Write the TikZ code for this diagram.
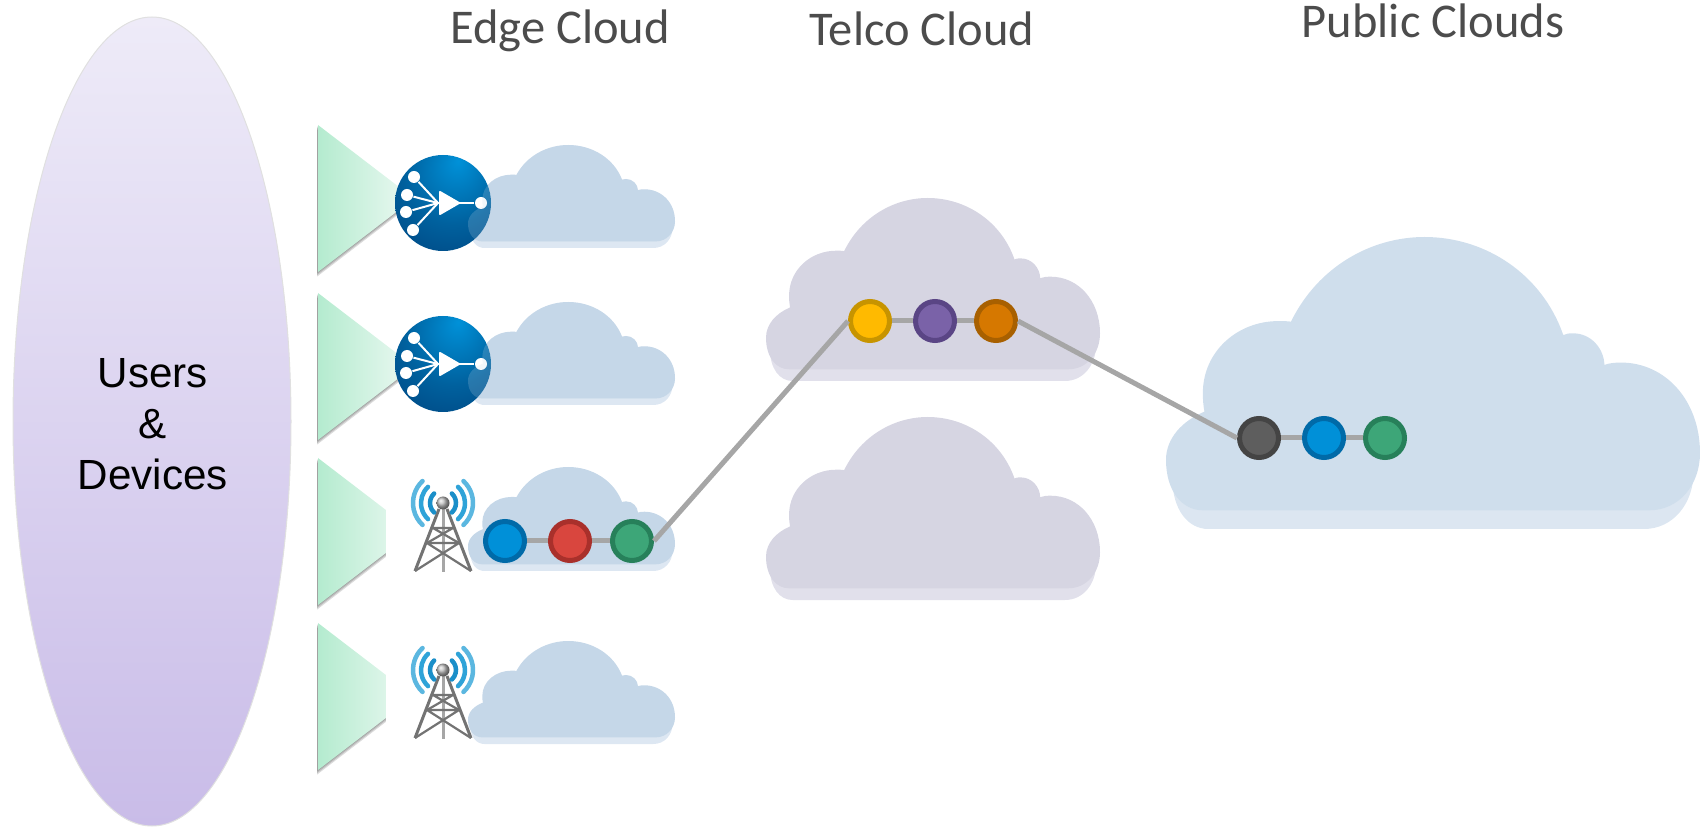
\documentclass[tikz,border=0pt]{standalone}
\usepackage{fontspec}
\setmainfont{Liberation Sans}
\newfontfamily\titlefont{Carlito}
\usetikzlibrary{positioning,calc}
\definecolor{edgefill}{HTML}{C5D7E8}
\definecolor{edgeshade}{HTML}{DDE7F2}
\definecolor{telcofill}{HTML}{D6D5E2}
\definecolor{telcoshade}{HTML}{E1E0EB}
\definecolor{publicfill}{HTML}{CFDEEC}
\definecolor{publicshade}{HTML}{DCE6F1}
\definecolor{linkgray}{HTML}{A6A6A6}
\definecolor{ovaltop}{HTML}{EEEBF8}
\definecolor{ovalbottom}{HTML}{C9BCE8}
\definecolor{wedgeleft}{HTML}{B4EBCF}
\definecolor{wedgeright}{HTML}{EDF9F3}
\definecolor{bluefill}{HTML}{0090D8}
\definecolor{blueline}{HTML}{006AA8}
\definecolor{redfill}{HTML}{D9463E}
\definecolor{redline}{HTML}{A9302B}
\definecolor{greenfill}{HTML}{3DA678}
\definecolor{greenline}{HTML}{27805A}
\definecolor{yellowfill}{HTML}{FFBA00}
\definecolor{yellowline}{HTML}{C79400}
\definecolor{purplefill}{HTML}{7A62A8}
\definecolor{purpleline}{HTML}{5A4585}
\definecolor{orangefill}{HTML}{D67800}
\definecolor{orangeline}{HTML}{A86000}
\definecolor{darkfill}{HTML}{5E5E5E}
\definecolor{darkline}{HTML}{444444}
\definecolor{waveinner}{HTML}{1B8FC9}
\definecolor{wavemiddle}{HTML}{2FA3D8}
\definecolor{waveouter}{HTML}{5BB7E0}
\pgfdeclareradialshading{hubball}{\pgfpoint{8bp}{22bp}}{
    rgb(0bp)=(0,0.57,0.85);
    rgb(25bp)=(0,0.38,0.62);
    rgb(50bp)=(0,0.24,0.47);
    rgb(70bp)=(0,0.18,0.40)
}
\tikzset{
    vnf/.style = {
        draw,
        shape=circle,
        inner sep=0pt,
        minimum size=0.39cm,
        line width=0.05cm
    },
    title/.style = {
        font=\titlefont\fontsize{13.8}{16}\selectfont,
        text=black!70
    },
    hub/.style = {
        shape=circle,
        shading=hubball,
        inner sep=0pt,
        minimum size=0.96cm
    },
    hubdot/.style = {
        fill=white,
        shape=circle,
        inner sep=0pt,
        minimum size=0.12cm
    },
    hubline/.style = {
        draw=white,
        line width=0.02cm
    },
    link/.style = {
        draw=linkgray,
        line width=0.05cm
    },
    wave/.style = {
        line cap=round,
        line width=0.045cm
    },
    mast/.style = {
        draw=black!55,
        line width=0.03cm
    },
}
% x, y, width, height, colour, opacity
\newcommand{\cloudpart}[6]{
    \fill[#5, fill opacity=#6, shift={(#1,#2)}, xscale=#3, yscale=-#4]
        (.234,.29) .. controls (.285,.10) and (.385,0) .. (.484,0)
        .. controls (.60,0) and (.705,.13) .. (.744,.336)
        .. controls (.75,.33) and (.755,.33) .. (.763,.33)
        .. controls (.795,.33) and (.82,.38) .. (.821,.438)
        .. controls (.83,.432) and (.84,.43) .. (.852,.43)
        .. controls (.935,.43) and (1,.56) .. (1,.74)
        .. controls (1,.85) and (.96,.936) .. (.905,.936)
        -- (.069,.936)
        .. controls (.03,.936) and (0,.87) .. (0,.763)
        .. controls (0,.69) and (.03,.63) .. (.072,.598)
        .. controls (.07,.58) and (.069,.56) .. (.069,.535)
        .. controls (.069,.39) and (.135,.288) .. (.21,.288)
        .. controls (.22,.288) and (.227,.288) .. (.234,.29) -- cycle;
}
% x, y, width, height, colour, lower colour
\newcommand{\fullcloud}[6]{
    \begin{scope}[yshift=-0.064*#4 cm]
        \cloudpart{#1+0.012*#3}{#2}{0.976*#3}{#4}{#6}{1}
    \end{scope}
    \cloudpart{#1}{#2}{#3}{#4}{#5}{1}
}
% top y of the wedge
\newcommand{\wedgeshape}[1]{
    \foreach \drop in {0.015,0.03,0.045} {
        \fill[black, fill opacity=0.14, yshift=-\drop cm, xshift=-0.008cm] (3.18,-#1) -- (4.14,-#1-0.735) -- (3.18,-#1-1.47) -- cycle;
    }
    \shade[left color=wedgeleft, right color=wedgeright, shading=axis] (3.18,-#1) -- (4.14,-#1-0.735) -- (3.18,-#1-1.47) -- cycle;
}
% x, y, name
\newcommand{\hubicon}[3]{
    \node[hub] (#3) at (#1,#2) {};
    \node[hubdot] (#3a) at ($(#3)+(-0.29,0.26)$) {};
    \node[hubdot] (#3b) at ($(#3)+(-0.36,0.08)$) {};
    \node[hubdot] (#3c) at ($(#3)+(-0.37,-0.09)$) {};
    \node[hubdot] (#3d) at ($(#3)+(-0.30,-0.27)$) {};
    \node[hubdot] (#3e) at ($(#3)+(0.38,0)$) {};
    \coordinate (#3t) at ($(#3)+(-0.05,0)$);
    \path[hubline] (#3a) -- (#3t);
    \path[hubline] (#3b) -- (#3t);
    \path[hubline] (#3c) -- (#3t);
    \path[hubline] (#3d) -- (#3t);
    \path[hubline] (#3t) -- (#3e);
    \filldraw[white, line width=0.02cm, line join=round] ($(#3)+(-0.03,0.11)$) -- ($(#3)+(0.16,0)$) -- ($(#3)+(-0.03,-0.11)$) -- cycle;
}
% x, y, name
\newcommand{\towericon}[3]{
    \begin{scope}[shift={(#1,#2)}]
        \coordinate (#3) at (0,0);
        \draw[mast] (-0.04,-0.06) -- (-0.28,-0.68) (0.04,-0.06) -- (0.28,-0.68);
        \draw[mast, draw=black!35] (0,-0.06) -- (0,-0.69);
        \draw[mast, line width=0.022cm] (-0.10,-0.25) -- (0.10,-0.25) (-0.16,-0.40) -- (0.10,-0.25) (0.16,-0.40) -- (-0.10,-0.25);
        \draw[mast, line width=0.022cm] (-0.16,-0.40) -- (0.16,-0.40) (-0.28,-0.68) -- (0.16,-0.40) (0.28,-0.68) -- (-0.16,-0.40);
        \foreach \side in {1,-1} {
            \begin{scope}[xscale=\side]
                \draw[wave, draw=waveinner] (133:0.13) arc (133:227:0.13);
                \draw[wave, draw=wavemiddle] (133:0.22) arc (133:227:0.22);
                \draw[wave, draw=waveouter] (133:0.30) arc (133:227:0.30);
            \end{scope}
        }
        \shade[ball color=black!25] (0,0) circle (0.065);
    \end{scope}
}

\begin{document}
\begin{tikzpicture}
    \useasboundingbox (0,0) rectangle (17,-8.29);
    \shade[draw=black!12, line width=0.01cm, top color=ovaltop, bottom color=ovalbottom, shading=axis] (1.52,-4.215) ellipse (1.39 and 4.045);

    \node[title] (edge) at (5.6,-0.31) {Edge Cloud};
    \node[title] (telco) at (9.22,-0.29) {Telco Cloud};
    \node[title] (public) at (14.33,-0.21) {Public Clouds};
    \node[align=center, font=\fontsize{12}{14.5}\selectfont] (users) at (1.53,-4.24) {Users\\\&\\Devices};

    \wedgeshape{1.25}
    \wedgeshape{2.93}
    \wedgeshape{4.58}
    \wedgeshape{6.23}
    % white box behind the towers
    \fill[white] (3.86,-4.5) rectangle (4.68,-5.9);
    \fill[white] (3.86,-6.2) rectangle (4.68,-7.6);

    \fullcloud{4.68}{-1.45}{2.07}{1.03}{edgefill}{edgeshade}
    \fullcloud{4.68}{-3.02}{2.07}{1.03}{edgefill}{edgeshade}
    \fullcloud{4.68}{-4.67}{2.07}{1.04}{edgefill}{edgeshade}
    \fullcloud{4.68}{-6.41}{2.07}{1.03}{edgefill}{edgeshade}
    \fullcloud{7.66}{-1.98}{3.34}{1.83}{telcofill}{telcoshade}
    \fullcloud{7.66}{-4.17}{3.34}{1.83}{telcofill}{telcoshade}
    \fullcloud{11.66}{-2.37}{5.34}{2.92}{publicfill}{publicshade}

    \hubicon{4.43}{-2.03}{hubA}
    \hubicon{4.43}{-3.64}{hubB}
    \cloudpart{4.68}{-1.45}{2.07}{1.03}{edgefill}{0.2}
    \cloudpart{4.68}{-3.02}{2.07}{1.03}{edgefill}{0.2}
    \towericon{4.43}{-5.03}{towerA}
    \towericon{4.43}{-6.70}{towerB}

    \node[vnf, fill=bluefill, draw=blueline] (blueE) at (5.05,-5.41) {};
    \node[vnf, fill=redfill, draw=redline] (redE) at (5.70,-5.41) {};
    \node[vnf, fill=greenfill, draw=greenline] (greenE) at (6.32,-5.41) {};
    \node[vnf, fill=yellowfill, draw=yellowline] (yellowT) at (8.70,-3.21) {};
    \node[vnf, fill=purplefill, draw=purpleline] (purpleT) at (9.35,-3.21) {};
    \node[vnf, fill=orangefill, draw=orangeline] (orangeT) at (9.96,-3.21) {};
    \node[vnf, fill=darkfill, draw=darkline] (darkP) at (12.59,-4.38) {};
    \node[vnf, fill=bluefill, draw=blueline] (blueP) at (13.24,-4.38) {};
    \node[vnf, fill=greenfill, draw=greenline] (greenP) at (13.85,-4.38) {};

    \path[link] (blueE) -- (redE);
    \path[link] (redE) -- (greenE);
    \path[link] (yellowT) -- (purpleT);
    \path[link] (purpleT) -- (orangeT);
    \path[link] (darkP) -- (blueP);
    \path[link] (blueP) -- (greenP);
    \path[link] (greenE.east) -- (yellowT.west);
    \path[link] (orangeT.east) -- (darkP.west);
\end{tikzpicture}
\end{document}
